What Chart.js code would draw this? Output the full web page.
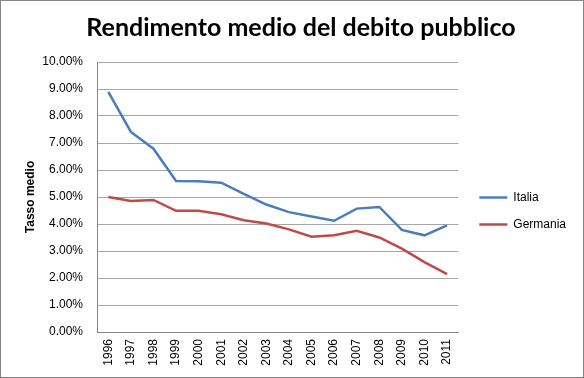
<!DOCTYPE html>
<html><head><meta charset="utf-8">
<script src="https://cdn.jsdelivr.net/npm/chart.js@4/dist/chart.umd.min.js"></script>
<style>html,body{margin:0;padding:0;background:#fff}#wrap{width:584px;height:378px}</style>
</head><body><div id="wrap"><canvas id="c" width="584" height="378"></canvas></div>
<script>
const years = ["1996","1997","1998","1999","2000","2001","2002","2003","2004","2005","2006","2007","2008","2009","2010","2011"];
const italia = [8.89,7.41,6.79,5.59,5.58,5.53,5.12,4.72,4.44,4.28,4.12,4.57,4.63,3.78,3.58,3.95];
const germania = [5.00,4.85,4.89,4.49,4.49,4.36,4.14,4.02,3.80,3.53,3.58,3.75,3.50,3.09,2.59,2.14];
const yTicks = [0,1,2,3,4,5,6,7,8,9,10];

function shiftDraw(chart, box, dx, dy){
  if (box && !box._wrapped){
    const d = box.draw.bind(box);
    box.draw = function(){ const ctx=chart.ctx; ctx.save(); ctx.translate(dx,dy); d(); ctx.restore(); };
    box._wrapped = true;
  }
}
const borderPlugin = {
  id:'frame',
  afterInit(chart){
    shiftDraw(chart, chart.legend, 6, 22);
    shiftDraw(chart, chart.titleBlock, 12, 0);
  },
  afterDraw(chart){
    const ctx = chart.ctx; ctx.save();
    ctx.strokeStyle = '#868686'; ctx.lineWidth = 1;
    ctx.strokeRect(0.5,0.5,583,377); ctx.restore();
  }
};

new Chart(document.getElementById('c'), {
  type:'line',
  data:{ labels: years, datasets:[
    {label:'Italia', data: italia, borderColor:'#4A7EBB', backgroundColor:'#4A7EBB', borderWidth:2.5, pointRadius:0, tension:0},
    {label:'Germania', data: germania, borderColor:'#BE4B48', backgroundColor:'#BE4B48', borderWidth:2.5, pointRadius:0, tension:0}
  ]},
  options:{
    responsive:false, animation:false, devicePixelRatio:1,
    layout:{padding:{left:8,right:14,top:0,bottom:0}},
    plugins:{
      title:{display:true, text:'Rendimento medio del debito pubblico', color:'#000',
        font:{family:'Lato', weight:'bold', size:25}, padding:{top:13,bottom:19}},
      legend:{position:'right', align:'center',
        labels:{color:'#000', font:{family:'Liberation Sans', size:12}, usePointStyle:true, pointStyle:'line', pointStyleWidth:28, boxHeight:12, padding:15}},
      tooltip:{enabled:false}
    },
    scales:{
      x:{ offset:true, grid:{display:false, drawTicks:false}, border:{color:'#868686'},
        ticks:{color:'#000', font:{family:'Liberation Sans', size:12}, minRotation:90, maxRotation:90, padding:7, autoSkip:false},
        afterFit(s){ s.height = 46; } },
      y:{ min:0, max:10, grid:{color:'#A6A6A6', drawTicks:false}, border:{color:'#868686'},
        afterBuildTicks(s){ s.ticks = yTicks.map(v=>({value:v})); },
        ticks:{color:'#000', font:{family:'Liberation Sans', size:12}, padding:14, callback:v=>v.toFixed(2)+'%'},
        title:{display:true, text:'Tasso medio', color:'#000', font:{family:'Liberation Sans', weight:'bold', size:12}, padding:{top:15,bottom:0}},
        afterFit(s){ s.width = 89; } }
    }
  },
  plugins:[borderPlugin]
});
</script></body></html>
